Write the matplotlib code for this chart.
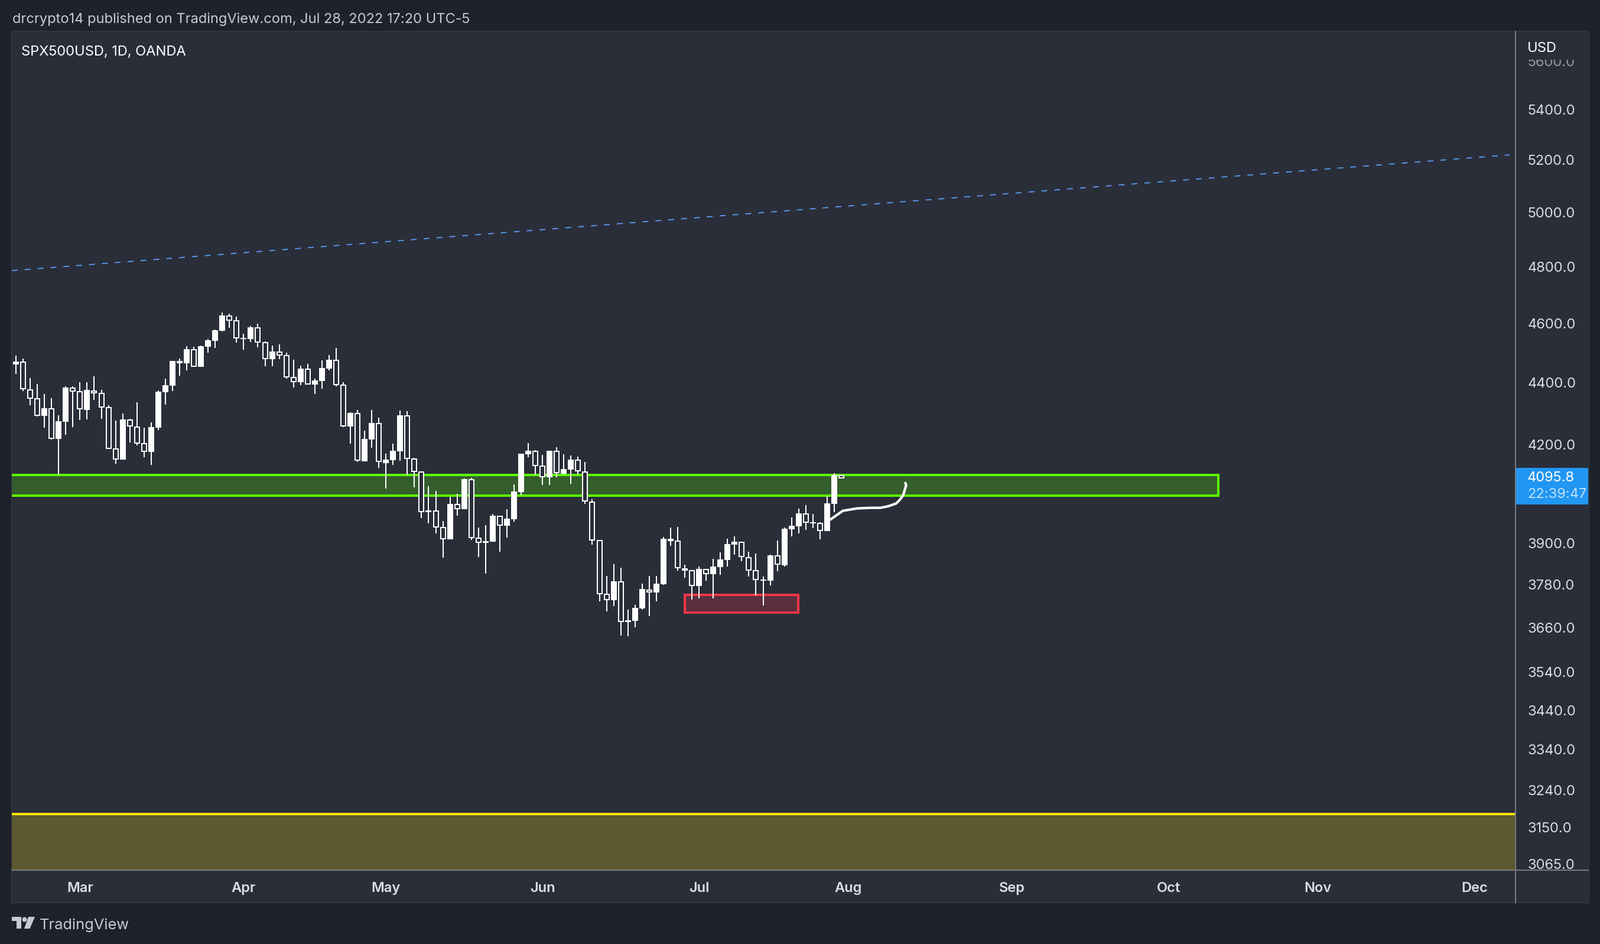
import math
import matplotlib
matplotlib.use("Agg")
import matplotlib.pyplot as plt
from matplotlib.patches import Rectangle, Polygon, Circle
from matplotlib.transforms import Bbox

# ---------- data ----------
opens = [
 4459.9,4469.1,4378.2,4348.0,4290.8,4315.1,4217.3,4271.9,4383.4,4371.2,
 4309.9,4374.3,4365.4,4319.0,4186.9,4152.4,4278.9,4256.3,4203.5,4176.4,
 4253.1,4367.9,4389.2,4463.8,4463.8,4510.8,4452.0,4519.5,4539.7,4573.9,
 4626.4,4610.0,4545.7,4545.7,4585.4,4535.0,4477.6,4502.8,4490.7,4418.0,
 4400.9,4445.5,4393.0,4404.8,4446.1,4475.0,4392.5,4256.9,4299.7,4147.0,
 4215.4,4267.6,4141.3,4150.6,4178.3,4292.1,4155.5,4114.9,3991.7,3996.5,
 3947.0,3911.0,4016.0,4000.6,4091.5,3915.6,3900.6,3904.1,3980.6,3951.0,
 3970.5,4052.4,4169.0,4179.5,4133.4,4097.4,4179.5,4108.2,4121.0,4151.9,
 4116.7,4023.0,3908.8,3753.9,3736.2,3789.2,3675.3,3678.5,3713.1,3767.2,
 3757.7,3781.2,3905.8,3907.0,3820.1,3821.3,3776.1,3824.7,3810.0,3830.3,
 3850.7,3895.5,3903.6,3858.7,3821.3,3791.4,3791.4,3864.0,3835.4,3940.5,
 3949.3,3987.7,3958.7,3959.4,3935.2,4016.5,4104.6]
closes = [
 4469.7,4378.2,4347.2,4291.3,4315.7,4217.9,4273.8,4383.4,4370.4,4311.3,
 4375.7,4364.6,4318.2,4186.2,4153.0,4279.5,4256.3,4202.8,4177.0,4255.0,
 4369.9,4391.1,4471.7,4471.7,4511.4,4452.6,4521.5,4541.7,4576.0,4627.1,
 4609.1,4548.3,4549.8,4586.0,4534.2,4478.2,4503.4,4490.0,4417.2,4401.5,
 4446.1,4393.6,4406.8,4448.0,4475.6,4391.7,4257.4,4300.2,4147.9,4217.3,
 4268.2,4144.2,4152.4,4180.1,4292.6,4154.3,4114.2,3992.3,3997.0,3946.3,
 3911.5,4016.5,4001.1,4092.0,3915.0,3901.2,3905.8,3981.1,3951.6,3972.3,
 4054.2,4170.9,4180.1,4132.6,4097.9,4180.1,4109.5,4122.9,4152.4,4116.0,
 4023.0,3908.0,3753.2,3736.7,3789.7,3676.4,3680.1,3714.8,3767.7,3757.7,
 3783.0,3912.7,3912.7,3826.4,3826.9,3776.6,3825.2,3810.5,3832.0,3852.4,
 3897.2,3904.1,3858.7,3820.6,3793.5,3794.7,3864.4,3836.5,3942.2,3951.0,
 3988.2,3960.5,3961.7,3935.7,4018.3,4104.6,4093.8]
highs = [
 4489.4,4479.5,4414.7,4395.0,4362.1,4348.6,4292.6,4387.3,4387.3,4400.9,
 4400.9,4420.6,4375.7,4325.4,4275.7,4298.3,4281.3,4335.0,4253.1,4270.0,
 4373.7,4412.8,4471.7,4479.5,4521.5,4519.5,4523.5,4545.7,4578.0,4637.4,
 4633.2,4623.0,4563.9,4590.1,4598.2,4537.7,4523.5,4527.6,4499.3,4475.6,
 4456.0,4461.8,4412.8,4473.6,4491.3,4515.5,4400.9,4302.1,4309.9,4243.7,
 4309.9,4285.1,4170.9,4202.3,4307.9,4306.0,4158.0,4115.5,4070.4,4056.0,
 3965.2,4038.0,4047.0,4093.8,4095.6,3945.8,3952.8,3986.4,3981.1,4000.6,
 4075.8,4170.9,4204.1,4182.0,4167.2,4180.1,4191.2,4169.0,4165.3,4161.6,
 4145.3,4030.8,3909.3,3804.9,3838.7,3828.6,3709.8,3723.0,3783.0,3804.9,
 3804.9,3917.9,3945.8,3947.6,3837.0,3821.3,3832.0,3824.7,3854.1,3873.0,
 3912.7,3919.6,3903.6,3874.8,3869.6,3803.2,3866.2,3907.5,3945.8,3975.8,
 4002.4,4013.0,3986.4,3961.7,4039.8,4110.0,4104.6]
lows = [
 4428.4,4371.8,4325.4,4288.9,4253.1,4215.4,4104.6,4230.5,4255.0,4277.6,
 4279.5,4342.8,4281.3,4186.2,4139.5,4152.4,4206.0,4196.7,4159.8,4135.8,
 4245.5,4327.3,4371.8,4422.5,4440.2,4452.6,4452.0,4499.3,4515.5,4571.9,
 4584.0,4533.6,4509.4,4535.6,4517.5,4454.0,4454.0,4477.6,4412.7,4383.4,
 4391.1,4393.6,4362.1,4379.5,4440.2,4387.3,4255.0,4202.3,4145.5,4147.0,
 4189.3,4127.0,4063.2,4135.8,4148.7,4104.6,4066.8,3974.1,3958.2,3928.2,
 3857.5,3911.0,3981.1,4000.6,3909.3,3859.3,3811.7,3904.1,3874.8,3916.2,
 3963.5,4043.4,4159.8,4104.6,4074.0,4074.0,4097.4,4106.4,4077.6,4106.4,
 4016.5,3895.5,3732.9,3704.9,3719.7,3638.1,3636.5,3660.7,3709.8,3691.6,
 3732.9,3779.6,3892.0,3820.1,3799.8,3737.9,3741.2,3791.4,3741.2,3808.3,
 3832.0,3866.2,3847.2,3803.2,3749.4,3721.4,3777.9,3818.4,3832.0,3919.6,
 3928.2,3938.7,3944.0,3911.0,3935.2,3991.7,4093.8]

green_zone = (4104.7, 4041.3)
green_end_bar = 169.0
red_zone = (3750.9, 3701.4)
red_bars = (94.0, 109.9)
yellow_level = 3181.7
trend_bars = (-0.58, 209.9)
trend_prices = (4785.5, 5220.0)
brush_bars = [114.4,115.1,116.2,118.2,120.1,121.5,122.6,123.7,124.2,124.7,124.9,125.1,125.0]
brush_prices = [3969,3979.2,3995.8,4003,4004.8,4004.8,4009.6,4017.8,4028.5,4043.5,4058.3,4073,4080.2]

price_ticks = [5600,5400,5200,5000,4800,4600,4400,4200,3900,3780,3660,3540,3440,3340,3240,3150,3065]
month_labels = ["Mar","Apr","May","Jun","Jul","Aug","Sep","Oct","Nov","Dec"]
month_bars = [9,32,52,74,96,117,140,162,183,205]
last_price = "4095.8"
countdown = "22:39:47"
header = "drcrypto14 published on TradingView.com, Jul 28, 2022 17:20 UTC-5"
symbol = "SPX500USD, 1D, OANDA"

# ---------- style ----------
W, H = 2708, 1598
BG = "#1e222d"; PANE = "#2a2e39"; BORDER = "#31353f"; AXIS = "#787b7f"
TXT = "#dcdee4"; WHITE = "#ffffff"
FONT = "Inter"
plt.rcParams["font.family"] = [FONT, "DejaVu Sans"]
L, R, T, B = 20, 2565, 52, 1473
BAR_STEP = 12.043; BAR0 = 27.0
YMIN, YMAX = 3050.9, 5730.0
pt = 0.72  # one pixel in points at dpi 100
FS = 17

fig = plt.figure(figsize=(W/100, H/100), dpi=100, facecolor=BG)

# pixel-coordinate layer for chrome
bgax = fig.add_axes([0, 0, 1, 1], zorder=0)
bgax.set_xlim(0, W); bgax.set_ylim(H, 0); bgax.axis("off")
bgax.add_patch(Rectangle((20, 53), 2669, 1475, fc=PANE, ec=BORDER, lw=1.5))

ax = fig.add_axes([L/W, 1-B/H, (R-L)/W, (B-T)/H], zorder=1)
ax.patch.set_alpha(0)
ax.set_yscale("log")
ax.set_xlim((L-BAR0)/BAR_STEP, (R-BAR0)/BAR_STEP)
ax.set_ylim(YMIN, YMAX)
for s in ax.spines.values():
    s.set_visible(False)

# zones
ax.add_patch(Rectangle((-3, green_zone[1]), green_end_bar+3, green_zone[0]-green_zone[1],
                       fc="#355e2d", ec="#5cff00", lw=4*pt, joinstyle="miter", zorder=1))
ax.add_patch(Rectangle((red_bars[0], red_zone[1]), red_bars[1]-red_bars[0], red_zone[0]-red_zone[1],
                       fc="#5a303c", ec="#f23645", lw=4*pt, joinstyle="miter", zorder=1))
ax.add_patch(Rectangle((-3, YMIN*0.9), 230, yellow_level-YMIN*0.9, fc="#5c5830", ec="none", zorder=1))
ax.axhline(yellow_level, color="#ffe600", lw=4*pt, zorder=1.5)
ax.plot(trend_bars, trend_prices, color="#5b9cf6", lw=1.3, ls=(0, (5.5, 6.6)),
        dash_capstyle="butt", zorder=1.5)

# candles
xs = list(range(len(opens)))
ax.vlines(xs, lows, highs, color=WHITE, lw=2*pt, zorder=2)
tops = [max(o, c) for o, c in zip(opens, closes)]
bots = [min(o, c) for o, c in zip(opens, closes)]
ax.bar(xs, [t-b for t, b in zip(tops, bots)], bottom=bots, width=10/BAR_STEP,
       color=WHITE, lw=0, zorder=3)
px_per_ln = (B-T)/math.log(YMAX/YMIN)
inset = math.exp(2/px_per_ln)
hx, hb, hh = [], [], []
for i, (o, c) in enumerate(zip(opens, closes)):
    if c < o:
        t, b = o/inset, c*inset
        if t > b:
            hx.append(i); hb.append(b); hh.append(t-b)
ax.bar(hx, hh, bottom=hb, width=6/BAR_STEP, color=PANE, lw=0, zorder=3.5)

# hand-drawn stroke
ax.plot(brush_bars, brush_prices, color=WHITE, lw=4.2*pt, solid_capstyle="round",
        solid_joinstyle="round", zorder=4)

# axes ticks
ax.set_xticks(month_bars, month_labels, fontsize=FS, fontweight="semibold", color=TXT)
ax.tick_params(axis="x", length=0, pad=14.5)
ax.yaxis.tick_right()
ax.set_yticks(price_ticks, [f"{p:.1f}" for p in price_ticks], fontsize=FS, color=TXT)
ax.minorticks_off()
ax.tick_params(axis="y", which="both", length=0, pad=14.5, labelright=True, labelleft=False)
for lab, p in zip(ax.get_yticklabels(), price_ticks):
    if p == 5600:
        lab.set_alpha(0.6)
        lab.set_clip_on(True)
        lab.set_clip_box(Bbox([[2500, H-140], [2700, H-101]]))

# overlay in pixels
top = fig.add_axes([0, 0, 1, 1], zorder=2)
top.set_xlim(0, W); top.set_ylim(H, 0); top.axis("off"); top.patch.set_alpha(0)
top.plot([R, R], [53, 1528], color=AXIS, lw=2*pt)
top.plot([20, 2688], [B, B], color=AXIS, lw=2*pt)
top.add_patch(Rectangle((2564, 792), 124, 62, fc="#2196f3", ec="none"))
top.text(2585, 809, last_price, color=WHITE, fontsize=FS, va="center", ha="left")
top.text(2585, 837, countdown, color="#bfe0fb", fontsize=FS, va="center", ha="left")
top.text(2585, 82, "USD", color=WHITE, fontsize=FS, va="center", ha="left")
top.text(21, 39, header, color="#c8cad4", fontsize=FS, va="baseline", ha="left")
top.text(36, 94, symbol, color=WHITE, fontsize=FS, va="baseline", ha="left")
top.text(67, 1573, "TradingView", color="#c8cad4", fontsize=18.3, va="baseline", ha="left")
LOGO = "#c8cad4"
top.add_patch(Polygon([(20,1552),(36,1552),(36,1572),(28,1572),(28,1559),(20,1559)], fc=LOGO, ec="none"))
top.add_patch(Circle((41.5,1556.5), 4, fc=LOGO, ec="none"))
top.add_patch(Polygon([(48,1552),(59,1552),(50.5,1572),(41,1572)], fc=LOGO, ec="none"))

fig.savefig("out.png", dpi=100, facecolor=BG)
